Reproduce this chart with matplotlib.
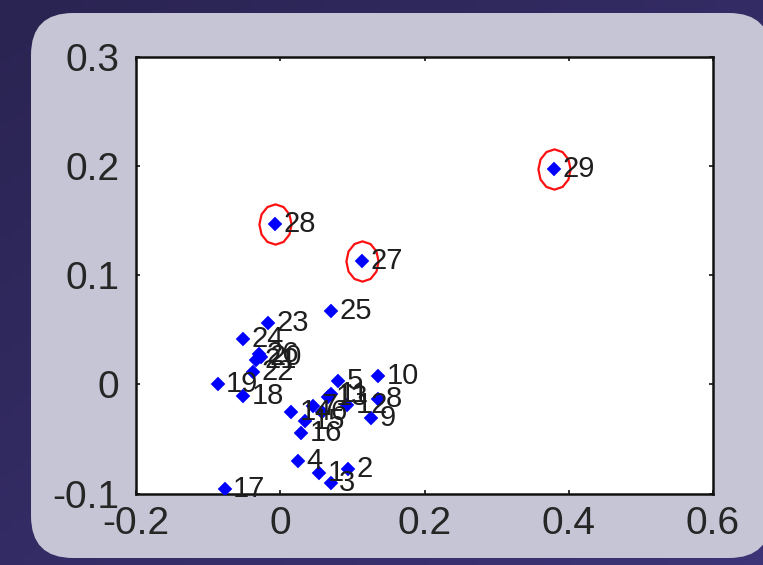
import matplotlib
matplotlib.use("Agg")
import matplotlib.pyplot as plt
from matplotlib.patches import FancyBboxPatch
from matplotlib.path import Path
import numpy as np

plt.rcParams['font.family'] = ['Liberation Sans', 'DejaVu Sans']
plt.rcParams['axes.unicode_minus'] = False

# points (label, x, y)
ids = list(range(1, 30))
xs = [0.054, 0.094, 0.070, 0.024, 0.080, 0.058, 0.045, 0.135, 0.126, 0.136,
      0.070, 0.093, 0.066, 0.015, 0.034, 0.029, -0.077, -0.051, -0.087, -0.026,
      -0.033, -0.038, -0.017, -0.051, 0.070, -0.030, 0.114, -0.007, 0.380]
ys = [-0.081, -0.078, -0.090, -0.070, 0.003, -0.025, -0.020, -0.013, -0.031, 0.008,
      -0.009, -0.019, -0.012, -0.025, -0.034, -0.045, -0.096, -0.011, 0.000, 0.025,
      0.022, 0.011, 0.056, 0.042, 0.067, 0.028, 0.113, 0.147, 0.197]
outliers = [27, 28, 29]

xticks = [-0.2, 0, 0.2, 0.4, 0.6]
yticks = [-0.1, 0, 0.1, 0.2, 0.3]

W, H = 763, 565
fig = plt.figure(figsize=(W / 100, H / 100), dpi=100)
fig.patch.set_facecolor('#30295e')

# background + rounded panel (pixel coords)
bg = fig.add_axes([0, 0, 1, 1])
bg.set_xlim(0, W); bg.set_ylim(H, 0); bg.axis('off')
grad = np.linspace(0, 1, 64)[None, :] * 0.5 + np.linspace(0, 1, 64)[:, None] * 0.5
bg.imshow(grad, extent=(0, W, H, 0), cmap=matplotlib.colors.LinearSegmentedColormap.from_list(
    'bgc', ['#2a2452', '#3d3477']), aspect='auto', zorder=0)
bg.add_patch(FancyBboxPatch((31, 13), 740, 545, boxstyle="round,pad=0,rounding_size=42",
                            fc='#c6c5d5', ec='none', zorder=1))

ax = fig.add_axes([136 / W, 1 - 493.5 / H, 577 / W, 436.5 / H])
ax.set_facecolor('white')
ax.set_xlim(-0.2, 0.6); ax.set_ylim(-0.1, 0.3)
ax.set_xticks(xticks); ax.set_yticks(yticks)
ax.set_xticklabels(['-0.2', '0', '0.2', '0.4', '0.6'])
ax.set_yticklabels(['-0.1', '0', '0.1', '0.2', '0.3'])
ax.tick_params(direction='in', length=3, width=1.2, top=True, right=True,
               labelsize=28, labelcolor='#262626', color='#111111')
ax.tick_params(axis='x', pad=9)
ax.tick_params(axis='y', pad=12)
for s in ax.spines.values():
    s.set_linewidth(1.8); s.set_color('#111111')

# slightly tall ring marker (MATLAB 'o' looks like an octagon here)
t = np.linspace(0, 2 * np.pi, 13)
ring = Path(np.column_stack([np.cos(t), 1.25 * np.sin(t)]))

ox = [xs[i - 1] for i in outliers]
oy = [ys[i - 1] for i in outliers]
ax.plot(ox, oy, linestyle='none', marker=ring, ms=29, mfc='none', mec='#ff1010', mew=1.6, zorder=2)
ax.plot(xs, ys, linestyle='none', marker='D', ms=7.3, color='#0000ff', mew=0.3, zorder=3)

for k, x, y in zip(ids, xs, ys):
    ax.annotate(str(k), (x, y), xytext=(6, 0), textcoords='offset points',
                ha='left', va='center', fontsize=21, color='#1e1e1e', zorder=4)

fig.savefig('out.png', dpi=100, facecolor=fig.get_facecolor())
